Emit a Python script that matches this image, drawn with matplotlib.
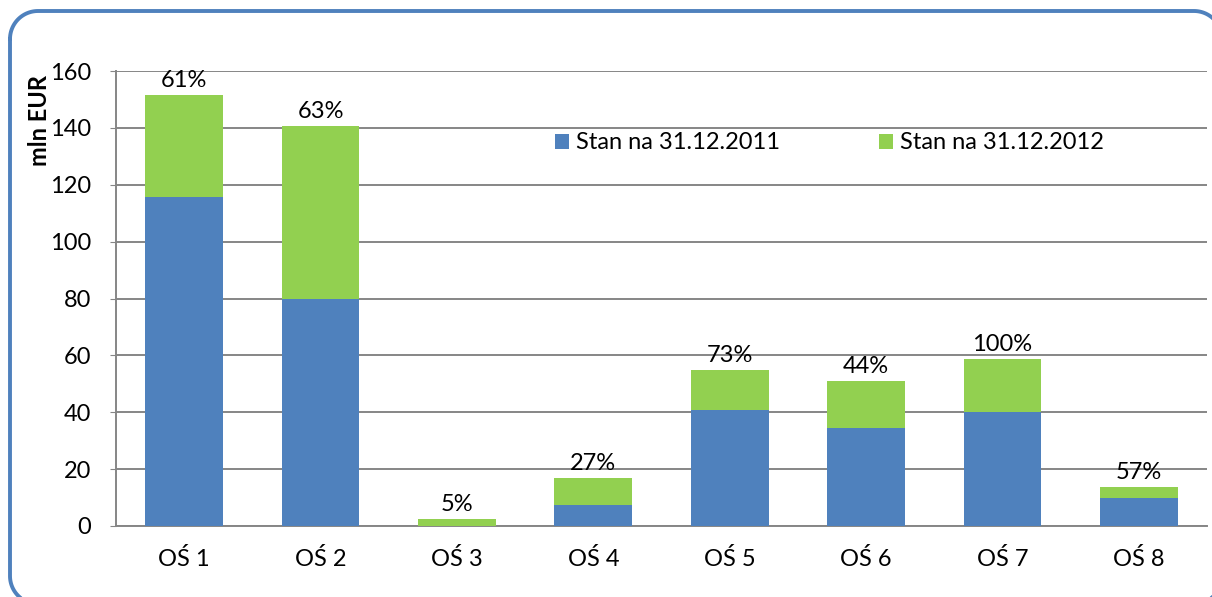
import matplotlib
matplotlib.use("Agg")
import matplotlib.pyplot as plt
import numpy as np

categories = ["OŚ 1", "OŚ 2", "OŚ 3", "OŚ 4", "OŚ 5", "OŚ 6", "OŚ 7", "OŚ 8"]
stan_2011 = [115.7, 79.8, 0.0, 7.4, 40.8, 34.5, 40.1, 9.8]
stan_2012_total = [151.5, 140.6, 2.4, 16.9, 54.9, 51.0, 58.7, 13.7]
pct_labels = ["61%", "63%", "5%", "27%", "73%", "44%", "100%", "57%"]
series_names = ["Stan na 31.12.2011", "Stan na 31.12.2012"]
yticks = [0, 20, 40, 60, 80, 100, 120, 140, 160]

plt.rcParams['font.family'] = ['Lato', 'DejaVu Sans']

W, H = 1212, 597
fig = plt.figure(figsize=(W / 100, H / 100), dpi=100)

blue = "#4F81BD"
green = "#92D050"
grid = "#868686"
FS = 17

# rounded border drawn in pixel coordinates (y measured from top)
bg = fig.add_axes([0, 0, 1, 1], zorder=5)
bg.set_xlim(0, W)
bg.set_ylim(H, 0)
bg.axis("off")
bg.patch.set_alpha(0)
L, R, T, B, r = 10, 1222, 11, 604, 28
def corner(cx, cy, a0, a1):
    t = np.linspace(np.radians(a0), np.radians(a1), 30)
    return cx + r * np.cos(t), cy + r * np.sin(t)
xs, ys = [], []
for cx, cy, a0, a1 in [(L + r, T + r, 180, 270), (R - r, T + r, 270, 360),
                       (R - r, B - r, 0, 90), (L + r, B - r, 90, 180)]:
    cxs, cys = corner(cx, cy, a0, a1)
    xs.extend(cxs); ys.extend(cys)
xs.append(xs[0]); ys.append(ys[0])
bg.plot(xs, ys, color=blue, linewidth=2.8, solid_capstyle="round")

ax = fig.add_axes([116 / W, (H - 526) / H, (1207 - 116) / W, (526 - 71) / H])
x = np.arange(len(categories))
inc = [t - b for t, b in zip(stan_2012_total, stan_2011)]
ax.bar(x, stan_2011, width=0.57, color=blue, label=series_names[0], zorder=3)
ax.bar(x, inc, bottom=stan_2011, width=0.57, color=green, label=series_names[1], zorder=3)

for xi, tot, lab in zip(x, stan_2012_total, pct_labels):
    ax.annotate(lab, (xi, tot), xytext=(0, 3), textcoords="offset points",
                ha="center", va="bottom", fontsize=FS, color="#000000")

ax.set_xlim(-0.5, len(categories) - 0.5)
ax.set_ylim(0, 160)
ax.set_yticks(yticks)
ax.set_xticks(x)
ax.set_xticklabels(categories)
ax.tick_params(axis="y", labelsize=FS, length=4, color=grid, pad=14)
ax.tick_params(axis="x", labelsize=FS, length=0, pad=16)
ax.yaxis.grid(True, color=grid, linewidth=1.4, zorder=0)
ax.set_axisbelow(True)
for s in ["top", "right"]:
    ax.spines[s].set_visible(False)
for s in ["left", "bottom"]:
    ax.spines[s].set_color(grid)
    ax.spines[s].set_linewidth(1.4)

leg = ax.legend(loc="center", bbox_to_anchor=(0.654, 0.842), ncol=2, frameon=False,
                fontsize=FS, handlelength=0.6, handleheight=0.6,
                handletextpad=0.3, columnspacing=4.2)

fig.text(40 / W, 1 - 120 / H, "mln EUR", rotation=90, ha="center", va="center",
         fontsize=FS, fontweight="bold")

fig.savefig("out.png", dpi=100)
